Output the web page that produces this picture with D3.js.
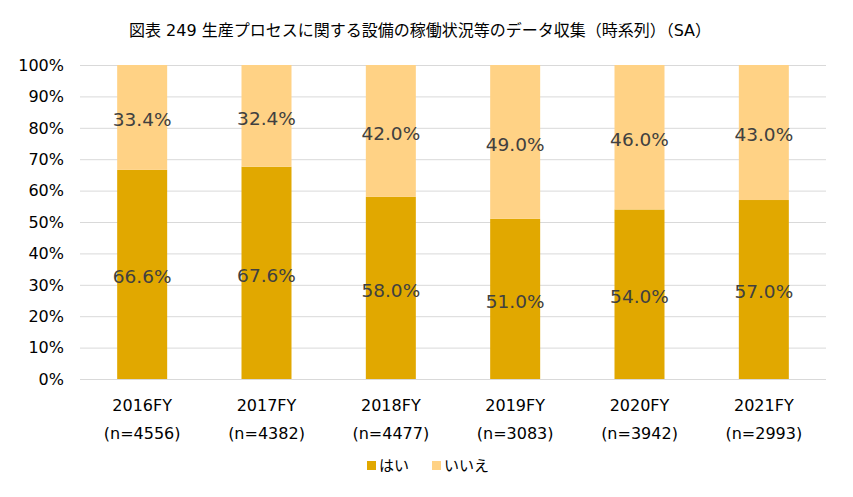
<!DOCTYPE html>
<html>
<head>
<meta charset="utf-8">
<script src="https://cdn.jsdelivr.net/npm/d3@7"></script>
<style>
  body { margin: 0; background: #fff; }
  text { font-family: "DejaVu Sans", "Noto Sans CJK JP", sans-serif; }
</style>
</head>
<body>
<script>
// データ
var years = ["2016FY", "2017FY", "2018FY", "2019FY", "2020FY", "2021FY"];
var counts = ["(n=4556)", "(n=4382)", "(n=4477)", "(n=3083)", "(n=3942)", "(n=2993)"];
var hai = [66.6, 67.6, 58.0, 51.0, 54.0, 57.0];
var iie = [33.4, 32.4, 42.0, 49.0, 46.0, 43.0];
var seriesNames = ["はい", "いいえ"];
var colors = ["#E1A800", "#FFD285"];
var yTicks = [0, 10, 20, 30, 40, 50, 60, 70, 80, 90, 100];

var W = 853, H = 497;
var margin = {top: 65, right: 27, bottom: 118, left: 80};

var svg = d3.select("body").append("svg")
  .attr("width", W).attr("height", H);

var xScale = d3.scaleBand().domain(years).range([margin.left, W - margin.right]).paddingInner(0).paddingOuter(0);
var yScale = d3.scaleLinear().domain([0, 100]).range([H - margin.bottom, margin.top]);
var barW = 50;

// タイトル
svg.append("text")
  .attr("x", 420).attr("y", 36)
  .attr("text-anchor", "middle")
  .attr("font-size", "16px")
  .attr("fill", "#000")
  .text("図表 249 生産プロセスに関する設備の稼働状況等のデータ収集（時系列）（SA）");

// グリッド
svg.append("g").selectAll("line")
  .data(yTicks).enter().append("line")
  .attr("x1", margin.left).attr("x2", W - margin.right)
  .attr("y1", function(d) { return yScale(d) + 0.5; })
  .attr("y2", function(d) { return yScale(d) + 0.5; })
  .attr("stroke", "#d9d9d9").attr("stroke-width", 1);

// Y軸ラベル
svg.append("g").selectAll("text")
  .data(yTicks).enter().append("text")
  .attr("x", 64).attr("y", function(d) { return yScale(d); })
  .attr("dy", "0.36em")
  .attr("text-anchor", "end")
  .attr("font-size", "16px")
  .attr("fill", "#000")
  .text(function(d) { return d + "%"; });

// 積み上げ
var rows = years.map(function(y, i) { return {year: y, hai: hai[i], iie: iie[i]}; });
var stack = d3.stack().keys(["hai", "iie"])(rows);

var layers = svg.append("g").selectAll("g")
  .data(stack).enter().append("g")
  .attr("fill", function(d, i) { return colors[i]; });

layers.selectAll("rect")
  .data(function(d) { return d; })
  .enter().append("rect")
  .attr("x", function(d) { return xScale(d.data.year) + xScale.bandwidth() / 2 - barW / 2; })
  .attr("y", function(d) { return yScale(d[1]); })
  .attr("width", barW)
  .attr("height", function(d) { return yScale(d[0]) - yScale(d[1]); });

// データラベル
layers.selectAll("text")
  .data(function(d) { return d; })
  .enter().append("text")
  .attr("x", function(d) { return xScale(d.data.year) + xScale.bandwidth() / 2; })
  .attr("y", function(d) { return yScale((d[0] + d[1]) / 2) + 2; })
  .attr("dy", "0.36em")
  .attr("text-anchor", "middle")
  .attr("font-size", "18.5px")
  .attr("fill", "#404040")
  .text(function(d) { return (d[1] - d[0]).toFixed(1) + "%"; });

// X軸線
svg.append("line")
  .attr("x1", margin.left).attr("x2", W - margin.right)
  .attr("y1", yScale(0) + 0.5).attr("y2", yScale(0) + 0.5)
  .attr("stroke", "#d9d9d9");

// カテゴリラベル
var cat = svg.append("g").selectAll("g")
  .data(years).enter().append("g");
cat.append("text")
  .attr("x", function(d) { return xScale(d) + xScale.bandwidth() / 2; })
  .attr("y", 405).attr("dy", "0.36em")
  .attr("text-anchor", "middle").attr("font-size", "16px").attr("fill", "#000")
  .text(function(d) { return d; });
cat.append("text")
  .attr("x", function(d) { return xScale(d) + xScale.bandwidth() / 2; })
  .attr("y", 433).attr("dy", "0.36em")
  .attr("text-anchor", "middle").attr("font-size", "16px").attr("fill", "#000")
  .text(function(d, i) { return counts[i]; });

// 凡例
var legX = [367, 432];
var leg = svg.append("g").selectAll("g")
  .data(seriesNames).enter().append("g");
leg.append("rect")
  .attr("x", function(d, i) { return legX[i]; })
  .attr("y", 461).attr("width", 9).attr("height", 9)
  .attr("fill", function(d, i) { return colors[i]; });
leg.append("text")
  .attr("x", function(d, i) { return legX[i] + 12; })
  .attr("y", 466).attr("dy", "0.36em")
  .attr("font-size", "15px").attr("fill", "#000")
  .text(function(d) { return d; });
</script>
</body>
</html>
